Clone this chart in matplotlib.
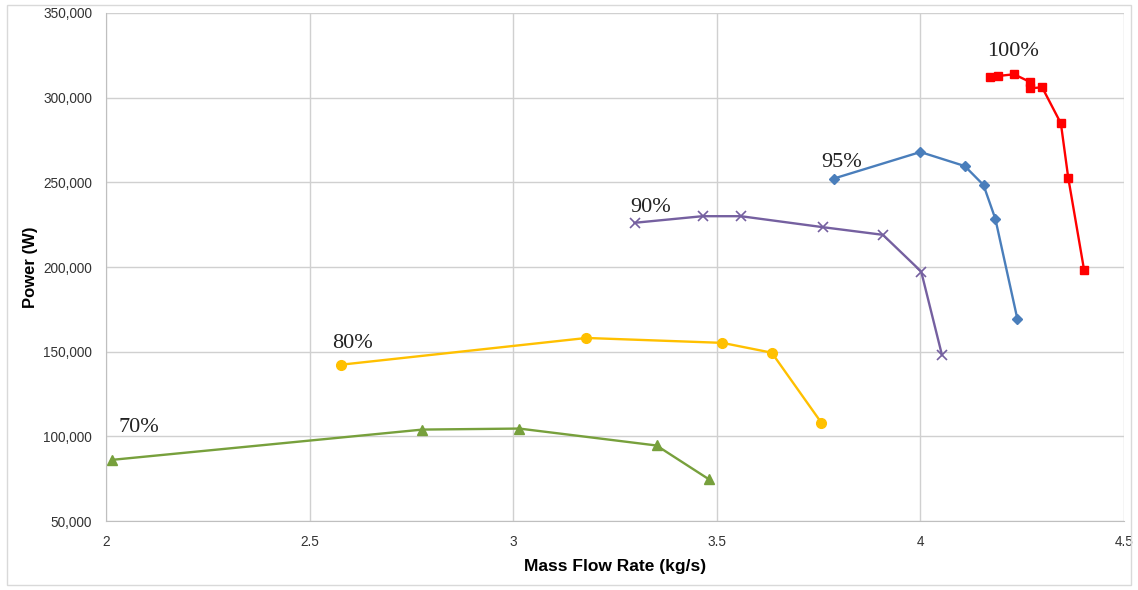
import matplotlib.pyplot as plt
from matplotlib.patches import Rectangle
from matplotlib.ticker import FuncFormatter
from matplotlib import font_manager

# speed lines: mass flow rate (kg/s) vs power (W)
x70 = [2.014, 2.777, 3.015, 3.352, 3.481]
y70 = [86100, 104000, 104600, 94600, 74600]

x80 = [2.577, 3.180, 3.514, 3.635, 3.757]
y80 = [142300, 158100, 155200, 149400, 108000]

x90 = [3.298, 3.465, 3.559, 3.761, 3.908, 4.002, 4.053]
y90 = [226100, 230000, 230000, 223500, 219000, 197300, 148000]

x95 = [3.787, 4.000, 4.109, 4.155, 4.184, 4.238]
y95 = [252200, 267900, 259600, 248400, 228500, 169500]

x100 = [4.171, 4.191, 4.230, 4.268, 4.268, 4.299, 4.345, 4.363, 4.402]
y100 = [312400, 312800, 313800, 309400, 305500, 306100, 284800, 252800, 198200]

labels = ["70%", "80%", "90%", "95%", "100%"]
label_x = [2.03, 2.555, 3.287, 3.757, 4.163]
label_y = [99800, 149000, 229400, 256300, 321600]

names = {f.name for f in font_manager.fontManager.ttflist}
narrow = "Liberation Sans Narrow" if "Liberation Sans Narrow" in names else "Liberation Sans"

fig = plt.figure(figsize=(11.38, 5.90), dpi=100)
ax = fig.add_axes([0.0931, 0.1169, 0.8946, 0.8611])

ax.plot(x70, y70, "-^", color="#77A03C", lw=1.7, ms=7)
ax.plot(x80, y80, "-o", color="#FFC000", lw=1.7, ms=7)
ax.plot(x90, y90, "-x", color="#7560A0", lw=1.7, ms=7, mew=1.2)
ax.plot(x95, y95, "-D", color="#4A7EBB", lw=1.7, ms=5.5)
ax.plot(x100, y100, "-s", color="#FF0000", lw=1.7, ms=6)

for t, lx, ly in zip(labels, label_x, label_y):
    ax.text(lx, ly, t, family="Liberation Serif", fontsize=16, color="#222222",
            ha="left", va="bottom")

ax.set_xlim(2, 4.5)
ax.set_ylim(50000, 350000)
ax.set_xticks([2, 2.5, 3, 3.5, 4, 4.5])
ax.set_xticklabels(["2", "2.5", "3", "3.5", "4", "4.5"])
ax.set_yticks(range(50000, 350001, 50000))
ax.yaxis.set_major_formatter(FuncFormatter(lambda v, p: f"{int(v):,}"))

ax.grid(True, color="#D0D0D0", lw=1)
ax.set_axisbelow(True)
for s in ["top", "right"]:
    ax.spines[s].set_visible(False)
for s in ["left", "bottom"]:
    ax.spines[s].set_color("#BFBFBF")
ax.tick_params(length=0, labelsize=9.8, labelcolor="#333333", pad=10)
for lab in ax.get_xticklabels() + ax.get_yticklabels():
    lab.set_family(narrow)

ax.set_xlabel("Mass Flow Rate (kg/s)", fontsize=12.5, fontweight="bold",
              family=narrow, labelpad=7)
ax.set_ylabel("Power (W)", fontsize=12, fontweight="bold",
              family=narrow, labelpad=4)

fig.patches.append(Rectangle((0.006, 0.008), 0.988, 0.984, transform=fig.transFigure,
                             fill=False, ec="#D9D9D9", lw=1))

plt.savefig("out.png", dpi=100)
